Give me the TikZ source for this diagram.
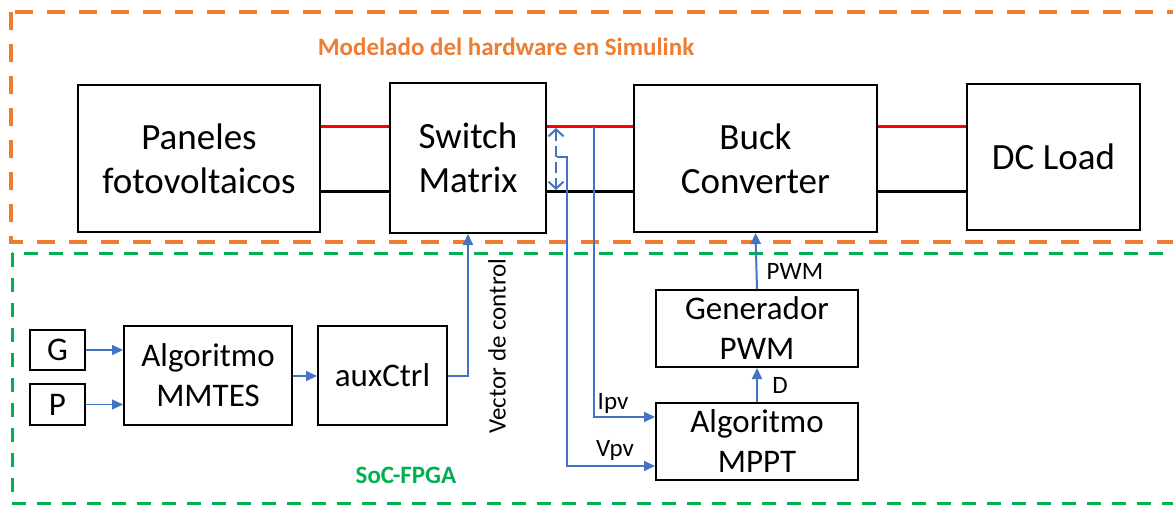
\documentclass[tikz,border=0pt]{standalone}
\usepackage{fontspec}
\setmainfont{Carlito}
\usetikzlibrary{arrows.meta}
\definecolor{hwor}{HTML}{ED7D31}
\definecolor{socgr}{HTML}{00B050}
\definecolor{sigbl}{HTML}{4472C4}
\begin{document}
\begin{tikzpicture}[x=1pt,y=-1pt,
  block/.style={draw=black,line width=2pt,inner sep=0pt,align=center,
    font=\fontsize{37}{44}\selectfont},
  ctlblock/.style={block,font=\fontsize{33}{40}\selectfont},
  powerline/.style={line width=3pt},
  sig/.style={draw=sigbl,line width=2pt,-{Triangle[length=11pt,width=10pt]}},
  thinsig/.style={draw=sigbl,line width=1.3pt,-{Triangle[length=11pt,width=10pt]}},
  lbl/.style={font=\fontsize{25}{28}\selectfont,inner sep=0pt},
  zone/.style={font=\fontsize{25}{28}\selectfont\bfseries,inner sep=0pt}]
\useasboundingbox (0,0) rectangle (1173,507);
\begin{scope}
\clip (0,0) rectangle (1173,507);
% hardware and controller zones
\draw[hwor,line width=3.5pt,dash pattern=on 18pt off 14pt] (11,12) rectangle (1200,242);
\draw[socgr,line width=3pt,dash pattern=on 14pt off 11pt] (12,253) rectangle (1200,503);
\end{scope}
\node[zone,text=hwor] (hwtitle) at (506,47) {Modelado del hardware en Simulink};
\node[zone,text=socgr] (soctitle) at (406,475) {SoC-FPGA};

% power stage
\node[block,minimum width=242pt,minimum height=147pt] (pv) at (199,158.5) {Paneles\\fotovoltaicos};
\node[block,minimum width=156pt,minimum height=150pt] (sw) at (468,158) {Switch\\Matrix};
\node[block,minimum width=243pt,minimum height=147pt] (buck) at (755.5,158.5) {Buck\\Converter};
\node[block,minimum width=173pt,minimum height=146pt] (load) at (1053.5,157) {DC Load};

\draw[red,powerline] (pv.east |- 0,126) -- (sw.west |- 0,126);
\draw[red,powerline] (sw.east |- 0,126) -- (buck.west |- 0,126);
\draw[red,powerline] (buck.east |- 0,126) -- (load.west |- 0,126);
\draw[black,powerline] (pv.east |- 0,191) -- (sw.west |- 0,191);
\draw[black,powerline] (sw.east |- 0,191) -- (buck.west |- 0,191);
\draw[black,powerline] (buck.east |- 0,191) -- (load.west |- 0,191);

% controller blocks
\node[ctlblock,minimum width=55pt,minimum height=40pt] (g) at (57.5,350) {G};
\node[ctlblock,minimum width=55pt,minimum height=41pt] (p) at (57.5,404.5) {P};
\node[ctlblock,minimum width=168pt,minimum height=99pt] (mmtes) at (208,375.5) {Algoritmo\\MMTES};
\node[ctlblock,minimum width=129pt,minimum height=99pt] (aux) at (382.5,375.5) {auxCtrl};
\node[ctlblock,minimum width=202pt,minimum height=77pt] (gen) at (757,328.5) {Generador\\PWM};
\node[ctlblock,minimum width=202pt,minimum height=77pt] (mppt) at (757,441.5) {Algoritmo\\MPPT};

% control signals
\draw[thinsig] (g.east) -- (mmtes.west |- g.east);
\draw[thinsig] (p.east) -- (mmtes.west |- p.east);
\draw[sig] (mmtes.east |- 0,376) -- (aux.west |- 0,376);
\draw[sig] (aux.east) -| (sw.south);
\node[lbl,rotate=90] (vec) at (497,346) {Vector de control};

\draw[sig] (mppt.north) -- (gen.south);
\node[lbl] (dlab) at (780,385) {D};
\draw[sig] (gen.north) -- (buck.south);
\node[lbl] (pwmlab) at (795,271) {PWM};

% measurement taps
\coordinate (itap) at (594,127);
\coordinate (vtap) at (557,157);
\draw[sig] (itap) |- (mppt.west |- 0,417);
\node[lbl] (ipv) at (613,403) {Ipv};
\draw[sig] (vtap) -- (567,157) |- (mppt.west |- 0,466);
\node[lbl] (vpv) at (615,450) {Vpv};

\coordinate (dtop) at (556,128);
\coordinate (dbot) at (556,190);
\draw[sigbl,line width=2pt,dash pattern=on 11pt off 5pt,
  {Straight Barb[length=7pt,width=15pt]}-{Straight Barb[length=7pt,width=15pt]}] (dtop) -- (dbot);
\end{tikzpicture}
\end{document}
